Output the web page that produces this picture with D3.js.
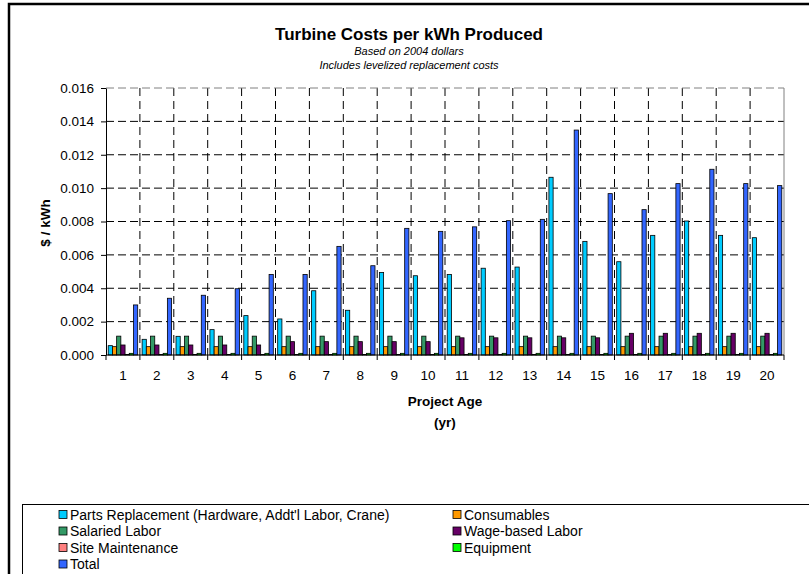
<!DOCTYPE html>
<html><head><meta charset="utf-8">
<script src="https://cdn.jsdelivr.net/npm/d3@7"></script>
<style>body{margin:0;background:#fff}svg{display:block;font-family:"Liberation Sans",Arial,sans-serif}</style>
</head><body><svg id="c" width="809" height="574"></svg>
<script>
const years = ["1","2","3","4","5","6","7","8","9","10","11","12","13","14","15","16","17","18","19","20"];
const seriesNames = ["Parts Replacement (Hardware, Addt'l Labor, Crane)","Consumables","Salaried Labor","Wage-based Labor","Site Maintenance","Equipment","Total"];
const partsReplacement = [0.00056,0.00094,0.00112,0.00152,0.00236,0.00216,0.00385,0.00268,0.00495,0.00475,0.00483,0.0052,0.00527,0.01065,0.00681,0.00559,0.00717,0.00803,0.00717,0.00703];
const consumables = [0.0005,0.0005,0.0005,0.0005,0.0005,0.0005,0.0005,0.0005,0.0005,0.0005,0.0005,0.0005,0.0005,0.0005,0.0005,0.0005,0.0005,0.0005,0.0005,0.0005];
const salariedLabor = [0.00113,0.00113,0.00113,0.00113,0.00113,0.00113,0.00113,0.00113,0.00113,0.00113,0.00113,0.00113,0.00113,0.00113,0.00113,0.00113,0.00113,0.00113,0.00113,0.00113];
const wageLabor = [0.0006,0.0006,0.0006,0.0006,0.0006,0.0008,0.0008,0.0008,0.0008,0.0008,0.00103,0.00103,0.00103,0.00103,0.00103,0.0013,0.0013,0.0013,0.0013,0.0013];
const siteMaintenance = [0.00003,0.00003,0.00003,0.00003,0.00003,0.00003,0.00003,0.00003,0.00003,0.00003,0.00003,0.00003,0.00003,0.00003,0.00003,0.00003,0.00003,0.00003,0.00003,0.00003];
const equipment = [0.0001,0.0001,0.0001,0.0001,0.0001,0.0001,0.0001,0.0001,0.0001,0.0001,0.0001,0.0001,0.0001,0.0001,0.0001,0.0001,0.0001,0.0001,0.0001,0.0001];
const total = [0.003,0.0034,0.00358,0.00397,0.00483,0.00483,0.00651,0.00535,0.00759,0.00741,0.00768,0.00805,0.00813,0.01348,0.00967,0.00871,0.01027,0.01113,0.01027,0.01015];
const yTicks = [0,0.002,0.004,0.006,0.008,0.010,0.012,0.014,0.016];
const colors = ["#00CCFF","#FF9900","#339966","#660066","#FF8080","#00FF00","#3366FF"];

const seriesData = [partsReplacement,consumables,salariedLabor,wageLabor,siteMaintenance,equipment,total];
const svg = d3.select("#c");
const L=106,R=784,T=88,B=355;

// outer frame
svg.append("rect").attr("x",9).attr("y",4).attr("width",820).attr("height",600)
  .attr("fill","none").attr("stroke","#000").attr("stroke-width",2.5);

const x0 = d3.scaleBand().domain(years).range([L,R]).padding(0);
const x1 = d3.scaleBand().domain(d3.range(7)).range([x0.bandwidth()*0.065, x0.bandwidth()*0.935]).padding(0);
const y = d3.scaleLinear().domain([0,0.016]).range([B,T]);

// horizontal gridlines
svg.append("g").selectAll("line").data(yTicks.filter(d=>d>0 && d<0.016)).join("line")
  .attr("x1",L).attr("x2",R).attr("y1",d=>y(d)).attr("y2",d=>y(d))
  .attr("stroke","#000").attr("stroke-dasharray","8,4").attr("stroke-width",1);
// vertical gridlines
svg.append("g").selectAll("line").data(years.slice(1)).join("line")
  .attr("x1",d=>x0(d)).attr("x2",d=>x0(d)).attr("y1",T).attr("y2",B)
  .attr("stroke","#000").attr("stroke-dasharray","8,5").attr("stroke-width",1);
// plot border top/right
svg.append("line").attr("x1",L).attr("x2",R).attr("y1",T).attr("y2",T)
  .attr("stroke","#808080").attr("stroke-dasharray","8,4");
svg.append("line").attr("x1",R).attr("x2",R).attr("y1",T).attr("y2",B)
  .attr("stroke","#808080");

// bars
const g = svg.append("g");
years.forEach((yr,i)=>{
  const gg = g.append("g").attr("transform",`translate(${x0(yr)},0)`);
  seriesData.forEach((s,k)=>{
    gg.append("rect").attr("x",x1(k)).attr("width",x1.bandwidth())
      .attr("y",y(s[i])).attr("height",B-y(s[i]))
      .attr("fill",colors[k]).attr("stroke","#000").attr("stroke-width",0.8);
  });
});

// y axis
const yAxis = d3.axisLeft(y).tickValues(yTicks).tickFormat(d3.format(".3f")).tickSize(5).tickSizeOuter(0);
const ya = svg.append("g").attr("transform",`translate(${L},0)`).call(yAxis);
ya.selectAll("text").attr("font-size",13.5).attr("fill","#000").attr("font-family","Liberation Sans, Arial").attr("dx",-4);
ya.selectAll("line").attr("stroke","#000");
ya.select(".domain").attr("stroke","#000");

// x axis
const xa = svg.append("g").attr("transform",`translate(0,${B})`);
xa.append("line").attr("x1",L).attr("x2",R).attr("stroke","#000");
xa.selectAll("line.t").data(years.concat(["end"])).join("line").attr("class","t")
  .attr("x1",(d,i)=>L+i*x0.bandwidth()).attr("x2",(d,i)=>L+i*x0.bandwidth())
  .attr("y1",0).attr("y2",5).attr("stroke","#000");
xa.selectAll("text").data(years).join("text")
  .attr("x",d=>x0(d)+x0.bandwidth()/2).attr("y",25).attr("text-anchor","middle")
  .attr("font-size",13.5).text(d=>d);

// titles
svg.append("text").attr("x",409).attr("y",40).attr("text-anchor","middle")
  .attr("font-size",17).attr("font-weight","bold").text("Turbine Costs per kWh Produced");
svg.append("text").attr("x",409).attr("y",54.5).attr("text-anchor","middle")
  .attr("font-size",11).attr("font-style","italic").text("Based on 2004 dollars");
svg.append("text").attr("x",409).attr("y",69).attr("text-anchor","middle")
  .attr("font-size",11).attr("font-style","italic").text("Includes levelized replacement costs");
svg.append("text").attr("x",445).attr("y",406).attr("text-anchor","middle")
  .attr("font-size",13.5).attr("font-weight","bold").text("Project Age");
svg.append("text").attr("x",445).attr("y",427).attr("text-anchor","middle")
  .attr("font-size",13.5).attr("font-weight","bold").text("(yr)");
svg.append("text").attr("transform","translate(50,223) rotate(-90)").attr("text-anchor","middle")
  .attr("font-size",13.5).attr("font-weight","bold").text("$ / kWh");

// legend
svg.append("rect").attr("x",22.5).attr("y",504.5).attr("width",800).attr("height",100)
  .attr("fill","none").attr("stroke","#000").attr("stroke-width",1);
const legPos = [[59,514.5],[453,514.5],[59,531],[453,531],[59,547.5],[453,547.5],[59,564]];
seriesNames.forEach((n,k)=>{
  const [lx,ly]=legPos[k];
  svg.append("rect").attr("x",lx).attr("y",ly-4).attr("width",8).attr("height",8)
    .attr("fill",colors[k]).attr("stroke","#000").attr("stroke-width",0.8);
  svg.append("text").attr("x",lx+11).attr("y",ly+5).attr("font-size",14).text(n);
});
</script></body></html>
